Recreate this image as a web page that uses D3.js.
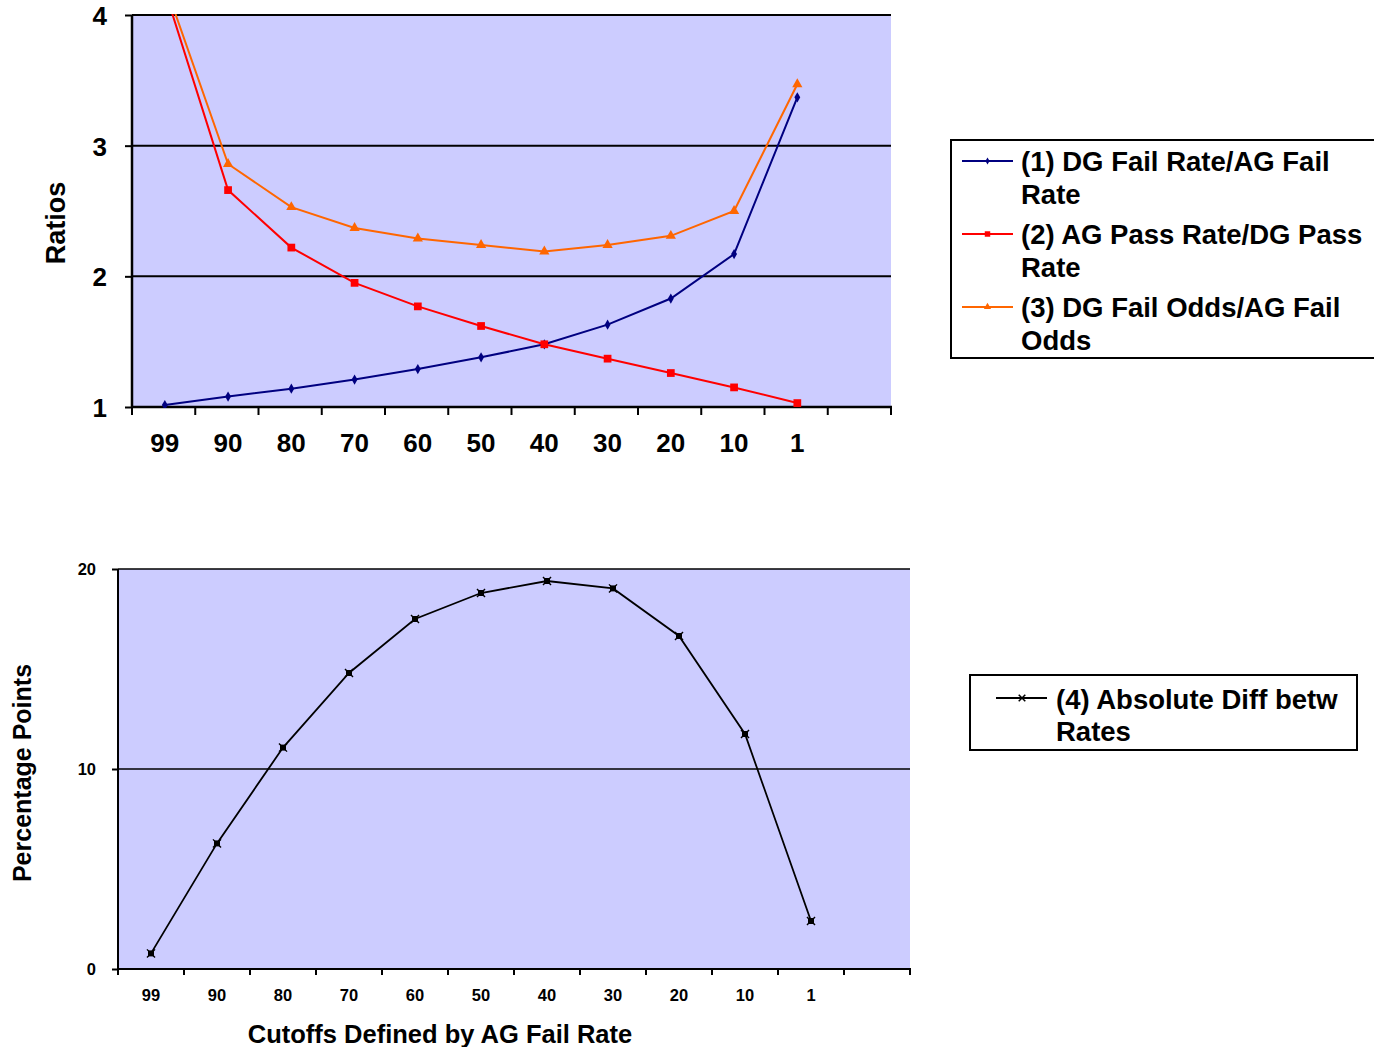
<!DOCTYPE html>
<html><head><meta charset="utf-8">
<script src="https://cdn.jsdelivr.net/npm/d3@7"></script>
<style>
html,body{margin:0;padding:0;background:#fff;}
svg text{font-family:"Liberation Sans",Arial,sans-serif;font-weight:bold;fill:#000;}
</style></head>
<body>
<svg id="c" width="1374" height="1047"></svg>
<script>
const categories = ["99","90","80","70","60","50","40","30","20","10","1"];
const ratioDgFailAgFail = [1.015,1.08,1.14,1.21,1.29,1.38,1.48,1.63,1.83,2.17,3.37];
const ratioAgPassDgPass = [4.19,2.66,2.22,1.95,1.77,1.62,1.48,1.37,1.26,1.15,1.03];
const ratioDgOddsAgOdds = [4.24,2.86,2.53,2.37,2.29,2.24,2.19,2.24,2.31,2.50,3.47];
const absDiffRates = [0.78,6.28,11.07,14.8,17.5,18.8,19.4,19.03,16.65,11.75,2.4];
const topTicks = [1,2,3,4];
const bottomTicks = [0,10,20];
const topSeries = [
  {name:"(1) DG Fail Rate/AG Fail", name2:"Rate", values:ratioDgFailAgFail, color:"#000080", sym:d3.symbolDiamond, size:30},
  {name:"(2) AG Pass Rate/DG Pass", name2:"Rate", values:ratioAgPassDgPass, color:"#FF0000", sym:d3.symbolSquare, size:60},
  {name:"(3) DG Fail Odds/AG Fail", name2:"Odds", values:ratioDgOddsAgOdds, color:"#FF6600", sym:d3.symbolTriangle, size:45}
];
const bottomSeries = {name:"(4) Absolute Diff betw", name2:"Rates", values:absDiffRates, color:"#000000"};

const svg = d3.select("#c");
const slots = categories.concat(["_blank"]);

function drawXAxis(g, x, y0, tickLen, fontSize, labelY, shift){
  const edges = slots.map(s => x(s)).concat([x.range()[1]]);
  g.selectAll("line.xt").data(edges).enter().append("line")
    .attr("x1", d=>d).attr("x2", d=>d).attr("y1", y0).attr("y2", y0+tickLen)
    .attr("stroke","#000").attr("stroke-width",2);
  g.selectAll("text.xl").data(categories).enter().append("text")
    .attr("x", d=> x(d)+x.bandwidth()/2+shift).attr("y", labelY)
    .attr("text-anchor","middle").style("font-size", fontSize+"px").text(d=>d);
}

// ---------- TOP CHART ----------
{
  const L=132, R=891, T=15, B=407, S=1.2;
  const x = d3.scaleBand().domain(slots).range([L,R]).padding(0);
  const y = d3.scaleLinear().domain([1,4]).range([B,T]);
  const cx = i => x(categories[i])+x.bandwidth()/2+S;
  const g = svg.append("g");
  g.append("rect").attr("x",L).attr("y",T).attr("width",R-L).attr("height",B-T).attr("fill","#CCCCFF");
  g.selectAll("line.grid").data(topTicks.filter(t=>t>1)).enter().append("line")
    .attr("x1",L).attr("x2",R).attr("y1",d=>y(d)).attr("y2",d=>y(d)).attr("stroke","#000").attr("stroke-width",2);
  const ya = g.append("g").attr("transform",`translate(${L},0)`)
    .call(d3.axisLeft(y).tickValues(topTicks).tickSize(7).tickPadding(18).tickFormat(d3.format("d")));
  ya.select(".domain").remove();
  ya.selectAll("line").attr("stroke","#000").attr("stroke-width",2);
  ya.selectAll("text").style("font-size","26px").attr("font-family",null).attr("dy","0.36em");
  g.append("line").attr("x1",L).attr("x2",L).attr("y1",T).attr("y2",B+1).attr("stroke","#000").attr("stroke-width",2.5);
  g.append("line").attr("x1",L-1).attr("x2",R+1).attr("y1",B).attr("y2",B).attr("stroke","#000").attr("stroke-width",2.5);
  drawXAxis(g, x, B, 8, 26, 452, S);

  svg.append("clipPath").attr("id","clipTop").append("rect").attr("x",L).attr("y",T-1).attr("width",R-L).attr("height",B-T+2);
  const line = d3.line().x((d,i)=>cx(i)).y(d=>y(d));
  const pg = g.append("g").attr("clip-path","url(#clipTop)");
  topSeries.forEach(s=>{
    pg.append("path").attr("d",line(s.values)).attr("fill","none").attr("stroke",s.color).attr("stroke-width",2);
  });
  topSeries.forEach(s=>{
    pg.selectAll(null).data(s.values).enter().append("path")
      .attr("d", d3.symbol().type(s.sym).size(s.size))
      .attr("transform",(d,i)=>`translate(${cx(i)},${y(d)})`)
      .attr("fill",s.color);
  });
  g.append("text").attr("transform","translate(65,223) rotate(-90)").attr("text-anchor","middle")
    .style("font-size","27px").text("Ratios");

  // legend
  const lg = svg.append("g");
  lg.append("rect").attr("x",951).attr("y",140).attr("width",440).attr("height",218)
    .attr("fill","#fff").attr("stroke","#000").attr("stroke-width",2);
  topSeries.forEach((s,i)=>{
    const cy = 161 + i*73;
    lg.append("line").attr("x1",962).attr("x2",1013).attr("y1",cy).attr("y2",cy).attr("stroke",s.color).attr("stroke-width",2);
    lg.append("path").attr("d",d3.symbol().type(s.sym).size(s.size*0.5)).attr("transform",`translate(987.5,${cy})`).attr("fill",s.color);
    lg.append("text").attr("x",1021).attr("y",cy+10).style("font-size","27.5px").text(s.name);
    lg.append("text").attr("x",1021).attr("y",cy+43).style("font-size","27.5px").text(s.name2);
  });
}

// ---------- BOTTOM CHART ----------
{
  const L=118, R=910, T=569, B=969;
  const x = d3.scaleBand().domain(slots).range([L,R]).padding(0);
  const y = d3.scaleLinear().domain([0,20]).range([B,T]);
  const g = svg.append("g");
  g.append("rect").attr("x",L).attr("y",T).attr("width",R-L).attr("height",B-T).attr("fill","#CCCCFF");
  g.selectAll("line.grid").data(bottomTicks.filter(t=>t>0)).enter().append("line")
    .attr("x1",L).attr("x2",R).attr("y1",d=>y(d)).attr("y2",d=>y(d)).attr("stroke","#000").attr("stroke-width",1.6);
  const ya = g.append("g").attr("transform",`translate(${L},0)`)
    .call(d3.axisLeft(y).tickValues(bottomTicks).tickSize(6).tickPadding(16).tickFormat(d3.format("d")));
  ya.select(".domain").remove();
  ya.selectAll("line").attr("stroke","#000").attr("stroke-width",2);
  ya.selectAll("text").style("font-size","16.5px").attr("font-family",null).attr("dy","0.36em");
  g.append("line").attr("x1",L).attr("x2",L).attr("y1",T).attr("y2",B+1).attr("stroke","#000").attr("stroke-width",2);
  g.append("line").attr("x1",L-1).attr("x2",R+1).attr("y1",B).attr("y2",B).attr("stroke","#000").attr("stroke-width",2);
  drawXAxis(g, x, B, 6, 16.5, 1001, 0);

  const line = d3.line().x((d,i)=>x(categories[i])+x.bandwidth()/2).y(d=>y(d));
  g.append("path").attr("d",line(bottomSeries.values)).attr("fill","none").attr("stroke","#000").attr("stroke-width",1.8);
  const mk = g.selectAll(null).data(bottomSeries.values).enter().append("g")
    .attr("transform",(d,i)=>`translate(${x(categories[i])+x.bandwidth()/2},${y(d)})`);
  mk.append("path").attr("d",d3.symbol().type(d3.symbolSquare).size(36)).attr("fill","#000");
  mk.append("path").attr("d",d3.symbol().type(d3.symbolX).size(44)).attr("fill","none").attr("stroke","#000").attr("stroke-width",1.4);

  g.append("text").attr("transform","translate(31,773) rotate(-90)").attr("text-anchor","middle")
    .style("font-size","25px").text("Percentage Points");
  g.append("text").attr("x",440).attr("y",1043).attr("text-anchor","middle")
    .style("font-size","25.5px").text("Cutoffs Defined by AG Fail Rate");

  const lg = svg.append("g");
  lg.append("rect").attr("x",970).attr("y",675).attr("width",387).attr("height",75)
    .attr("fill","#fff").attr("stroke","#000").attr("stroke-width",2);
  lg.append("line").attr("x1",996).attr("x2",1047).attr("y1",698).attr("y2",698).attr("stroke","#000").attr("stroke-width",2);
  lg.append("path").attr("d",d3.symbol().type(d3.symbolX).size(30)).attr("transform","translate(1022,698)")
    .attr("fill","none").attr("stroke","#000").attr("stroke-width",1.5);
  lg.append("text").attr("x",1056).attr("y",709).style("font-size","27.5px").text(bottomSeries.name);
  lg.append("text").attr("x",1056).attr("y",741).style("font-size","27.5px").text(bottomSeries.name2);
}
</script>
</body></html>
